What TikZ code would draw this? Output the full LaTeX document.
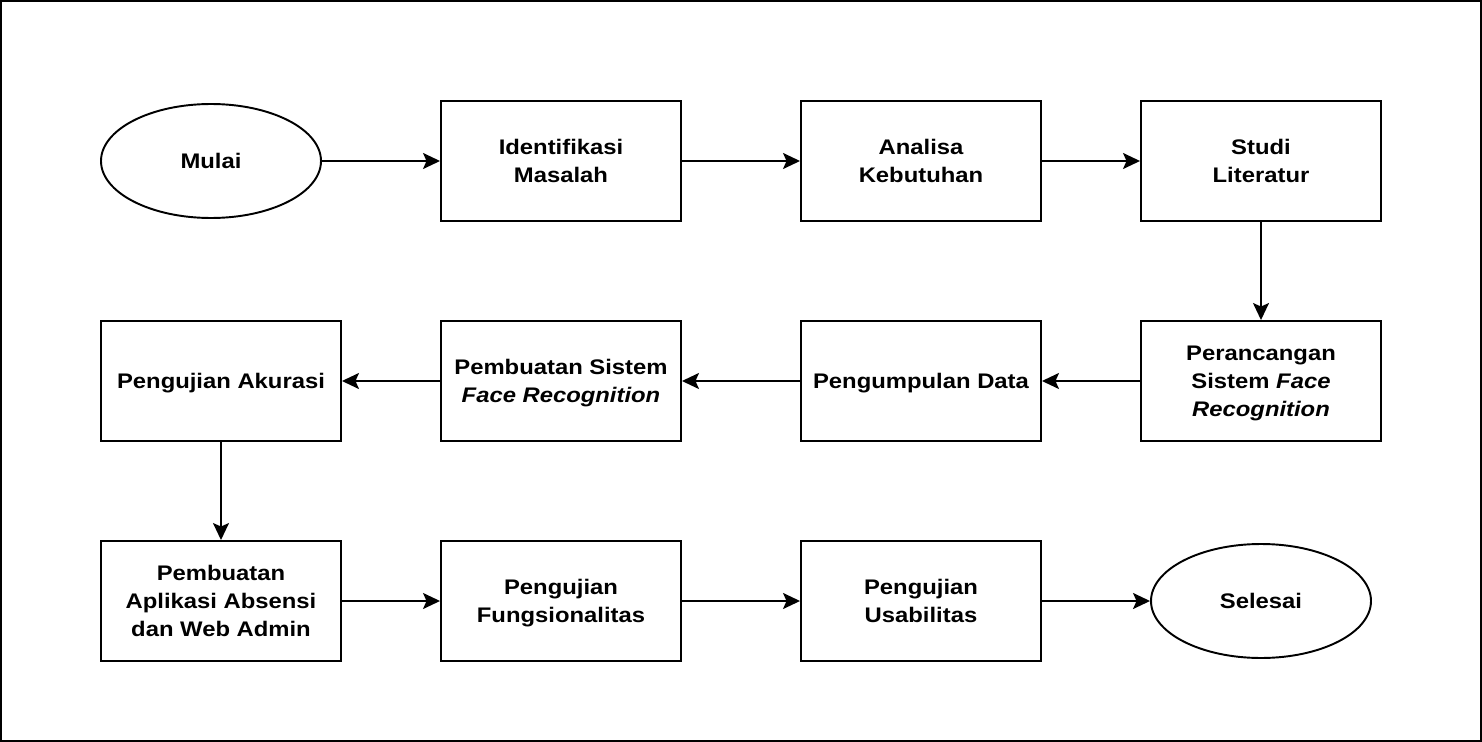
\documentclass[tikz,border=0pt]{standalone}
\usepackage{fontspec}
\setmainfont[FakeStretch=1.13]{Liberation Sans}
\usepackage{xcolor}
\usetikzlibrary{shapes.geometric,arrows.meta}
\definecolor{flowblack}{RGB}{0,0,0}
\newcommand{\atas}{\rule{0pt}{12.6pt}}
\newcommand{\bawah}{\rule[-4pt]{0pt}{4pt}}

\begin{document}
\begin{tikzpicture}[
    teks/.style={align=center, inner sep=0pt, font=\fontsize{12pt}{15.9pt}\selectfont\bfseries},
    prosesbox/.style={teks, draw=flowblack, line width=1.1pt, rectangle, minimum width=4.8cm, minimum height=2.4cm},
    terminal/.style={teks, draw=flowblack, line width=1.1pt, ellipse, minimum width=4.4cm, minimum height=2.28cm},
    alur/.style={draw=flowblack, line width=1.1pt, -{Stealth[length=0.34cm, width=0.32cm, inset=0.07cm]}}
]
    % Frame
    \useasboundingbox (0,0) rectangle (29.64,-14.84);
    \draw[flowblack, line width=1.1pt] (0.02,-0.02) rectangle (29.62,-14.82);

    % Row 1
    \node[terminal] (mulai) at (4.22,-3.22) {\atas Mulai\bawah};
    \node[prosesbox] (identifikasi) at (11.22,-3.22) {\atas Identifikasi\\Masalah\bawah};
    \node[prosesbox] (analisa) at (18.42,-3.22) {\atas Analisa\\Kebutuhan\bawah};
    \node[prosesbox] (studi) at (25.22,-3.22) {\atas Studi\\Literatur\bawah};

    % Row 2
    \node[prosesbox] (perancangan) at (25.22,-7.62) {\atas Perancangan\\Sistem \textit{Face}\\\textit{Recognition}\bawah};
    \node[prosesbox] (pengumpulan) at (18.42,-7.62) {\atas Pengumpulan Data\bawah};
    \node[prosesbox] (pembuatansistem) at (11.22,-7.62) {\atas Pembuatan Sistem\\\textit{Face Recognition}\bawah};
    \node[prosesbox] (akurasi) at (4.42,-7.62) {\atas Pengujian Akurasi\bawah};

    % Row 3
    \node[prosesbox] (aplikasi) at (4.42,-12.02) {\atas Pembuatan\\Aplikasi Absensi\\dan Web Admin\bawah};
    \node[prosesbox] (fungsionalitas) at (11.22,-12.02) {\atas Pengujian\\Fungsionalitas\bawah};
    \node[prosesbox] (usabilitas) at (18.42,-12.02) {\atas Pengujian\\Usabilitas\bawah};
    \node[terminal] (selesai) at (25.22,-12.02) {\atas Selesai\bawah};

    % Flow
    \draw[alur] (mulai) -- (identifikasi);
    \draw[alur] (identifikasi) -- (analisa);
    \draw[alur] (analisa) -- (studi);
    \draw[alur] (studi) -- (perancangan);
    \draw[alur] (perancangan) -- (pengumpulan);
    \draw[alur] (pengumpulan) -- (pembuatansistem);
    \draw[alur] (pembuatansistem) -- (akurasi);
    \draw[alur] (akurasi) -- (aplikasi);
    \draw[alur] (aplikasi) -- (fungsionalitas);
    \draw[alur] (fungsionalitas) -- (usabilitas);
    \draw[alur] (usabilitas) -- (selesai);
\end{tikzpicture}
\end{document}
